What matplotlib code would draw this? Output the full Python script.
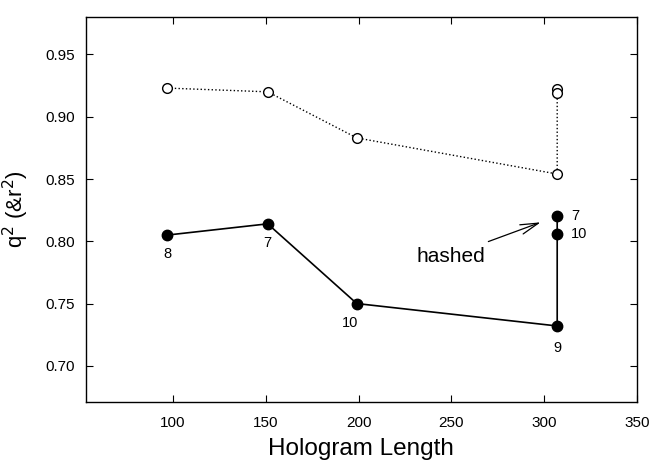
import matplotlib
matplotlib.use("Agg")
import matplotlib.pyplot as plt

plt.rcParams['font.family'] = ['Liberation Sans', 'DejaVu Sans']

# Open circles (r^2), dotted line
open_x = [97, 151, 199, 307, 307]
open_y = [0.923, 0.920, 0.883, 0.854, 0.922]
open_extra_x = [307]
open_extra_y = [0.919]

# Filled circles (q^2), solid line
fill_x = [97, 151, 199, 307, 307, 307]
fill_y = [0.805, 0.814, 0.750, 0.732, 0.806, 0.820]
fill_labels = ['8', '7', '10', '9', '10', '7']

xticks = [100, 150, 200, 250, 300, 350]
yticks = [0.70, 0.75, 0.80, 0.85, 0.90, 0.95]

fig = plt.figure(figsize=(6.5, 4.62), dpi=100)
ax = fig.add_axes([0.132, 0.13, 0.848, 0.833])

ax.plot(open_x, open_y, linestyle=':', color='black', lw=1.0,
        marker='o', markersize=7, markerfacecolor='white', markeredgecolor='black', mew=1.0)
ax.plot(open_extra_x, open_extra_y, linestyle='none',
        marker='o', markersize=7, markerfacecolor='white', markeredgecolor='black', mew=1.0)

# solid line: path 97->151->199->307(0.732)->307(0.820)
ax.plot(fill_x[:4] + [fill_x[5]], fill_y[:4] + [fill_y[5]], '-', color='black', lw=1.2)
ax.plot(fill_x, fill_y, linestyle='none', marker='o', markersize=7.5,
        color='black')

offsets = [(0, -14), (0, -14), (-5, -14), (0, -16), (16, 0), (13, 0)]
for x, y, lab, off in zip(fill_x, fill_y, fill_labels, offsets):
    ax.annotate(lab, (x, y), xytext=off, textcoords='offset points',
                ha='center', va='center', fontsize=10.5)

ax.annotate('', xy=(299.5, 0.816), xytext=(268.5, 0.799),
            arrowprops=dict(arrowstyle='->,head_length=1.3,head_width=0.35', color='black', lw=0.9))
ax.text(249.5, 0.7875, 'hashed', ha='center', va='center', fontsize=15)

ax.set_xlim(53, 350)
ax.set_ylim(0.671, 0.98)
ax.set_xticks(xticks)
ax.set_yticks(yticks)
ax.set_xticklabels([str(v) for v in xticks])
ax.set_yticklabels(['%.2f' % v for v in yticks])
ax.tick_params(direction='in', top=True, right=True, length=5, labelsize=11)
ax.tick_params(axis='x', pad=10)
ax.tick_params(axis='y', pad=8)
for s in ax.spines.values():
    s.set_linewidth(1.0)

ax.set_xlabel('Hologram Length', fontsize=17.5, labelpad=6)
ax.set_ylabel('q$^2$ (&r$^2$)', fontsize=16, labelpad=10)

fig.savefig('out.png', dpi=100)
